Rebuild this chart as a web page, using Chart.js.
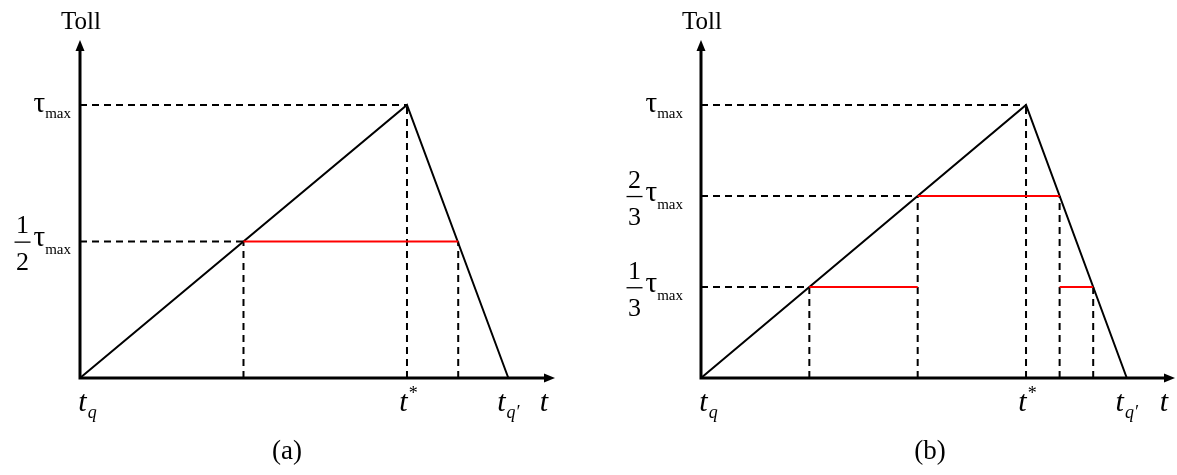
<!DOCTYPE html>
<html><head><meta charset="utf-8">
<script src="https://cdn.jsdelivr.net/npm/chart.js@4.4.0/dist/chart.umd.min.js"></script>
<style>
html,body{margin:0;padding:0;background:#fff;overflow:hidden}
#wrap{position:relative;width:1177px;height:475px}
canvas{position:absolute;top:0}
#cA{left:0}
#cB{left:588px}
</style></head><body>
<div id="wrap"><canvas id="cA" width="588" height="475"></canvas><canvas id="cB" width="589" height="475"></canvas></div>
<script>
// ---- shared toll profile: t_q, t*, t_q'
const profileT = [0, 3, 3.93];
const profileToll = [0, 1, 0];
const profileLabels = ['t_q', 't*', "t_q'"];

// ---- panel (a)
const levelsA = [1, 0.5];
const levelNumA = ['', '1'];
const levelDenA = ['', '2'];
const levelGuideEndA = [3, 1.5];
const vGuideTA = [1.5, 3, 3.47];
const vGuideHA = [0.5, 1, 0.5];
const redStartA = [1.5];
const redEndA = [3.47];
const redLevelA = [0.5];

// ---- panel (b)
const levelsB = [1, 0.667, 0.333];
const levelNumB = ['', '2', '1'];
const levelDenB = ['', '3', '3'];
const levelGuideEndB = [3, 2, 1];
const vGuideTB = [1, 2, 3, 3.31, 3.62];
const vGuideHB = [0.333, 0.667, 1, 0.667, 0.333];
const redStartB = [1, 2, 3.31];
const redEndB = [2, 3.31, 3.62];
const redLevelB = [0.333, 0.667, 0.333];

const SERIF = '"Liberation Serif", "Times New Roman", serif';
const DASH = [7, 5];

function seg(data, color, width, dash, order) {
  return { data, showLine: true, borderColor: color, borderWidth: width,
    borderDash: dash, pointRadius: 0, fill: false, order, tension: 0, clip: false };
}

function buildDatasets(levels, guideEnd, vT, vH, rS, rE, rL) {
  const ds = [];
  rS.forEach((s, i) => ds.push(seg([{x: s, y: rL[i]}, {x: rE[i], y: rL[i]}], '#ff0000', 2, [], 0)));
  ds.push(seg(profileT.map((t, i) => ({x: t, y: profileToll[i]})), '#000', 2, [], 1));
  levels.forEach((l, i) => ds.push(seg([{x: 0, y: l}, {x: guideEnd[i], y: l}], '#000', 2, DASH, 2)));
  vT.forEach((t, i) => ds.push(seg([{x: t, y: 0}, {x: t, y: vH[i]}], '#000', 2, DASH, 2)));
  return ds;
}

const overlay = {
  id: 'overlay',
  afterDatasetsDraw(chart, args, o) {
    const ctx = chart.ctx, x = chart.scales.x, y = chart.scales.y;
    const x0 = x.getPixelForValue(0), y0 = y.getPixelForValue(0);
    const xEnd = x.getPixelForValue(x.max), yTop = y.getPixelForValue(y.max);
    ctx.save();
    ctx.setLineDash([]);
    ctx.strokeStyle = '#000'; ctx.fillStyle = '#000'; ctx.lineWidth = 3;
    ctx.beginPath();
    ctx.moveTo(x0, y0 + 1.5); ctx.lineTo(x0, yTop + 8);
    ctx.moveTo(x0 - 1.5, y0); ctx.lineTo(xEnd - 8, y0);
    ctx.stroke();
    ctx.beginPath(); ctx.moveTo(x0, yTop); ctx.lineTo(x0 - 4.5, yTop + 11); ctx.lineTo(x0 + 4.5, yTop + 11); ctx.closePath(); ctx.fill();
    ctx.beginPath(); ctx.moveTo(xEnd, y0); ctx.lineTo(xEnd - 11, y0 - 4.5); ctx.lineTo(xEnd - 11, y0 + 4.5); ctx.closePath(); ctx.fill();

    // axis title
    ctx.textBaseline = 'alphabetic';
    ctx.font = '25px ' + SERIF; ctx.textAlign = 'center';
    ctx.fillText('Toll', x0 + 1, 29);

    // y level labels
    o.levels.forEach((lv, i) => {
      const yy = y.getPixelForValue(lv);
      const frac = o.num[i] !== '';
      ctx.font = '15px ' + SERIF; ctx.textAlign = 'right';
      const wMax = ctx.measureText('max').width;
      ctx.fillText('max', o.labelRight, yy + 13);
      ctx.font = '29px ' + SERIF;
      const wTau = ctx.measureText('τ').width;
      ctx.fillText('τ', o.labelRight - wMax, yy + (frac ? 5 : 7));
      if (frac) {
        const cx = o.labelRight - wMax - wTau - 11;
        ctx.font = '26px ' + SERIF; ctx.textAlign = 'center';
        ctx.fillText(o.num[i], cx, yy - 8);
        ctx.fillText(o.den[i], cx, yy + 29);
        ctx.fillRect(cx - 8, yy, 16, 1.3);
      }
    });

    // x labels
    const base = 411;
    function tLabel(cx, sub, sup) {
      ctx.font = 'italic 30px ' + SERIF; ctx.textAlign = 'center';
      const w = ctx.measureText('t').width;
      ctx.fillText('t', cx, base);
      ctx.textAlign = 'left';
      if (sub) { ctx.font = 'italic 18px ' + SERIF; ctx.fillText(sub, cx + w / 2 + 1, base + 7); }
      if (sup) { ctx.font = '18px ' + SERIF; ctx.fillText(sup, cx + w / 2 + 1, base - 12); }
    }
    const offs = [2.5, -3.5, -7];
    profileLabels.forEach((lab, i) => {
      const px = x.getPixelForValue(profileT[i]) + offs[i];
      if (lab === 't_q') tLabel(px, 'q');
      else if (lab === 't*') tLabel(px, null, '*');
      else tLabel(px, 'q′');
    });
    tLabel(xEnd - 11);

    // caption
    ctx.font = '27px ' + SERIF; ctx.textAlign = 'center';
    ctx.fillText(o.caption, o.captionX, 459);
    ctx.restore();
  }
};

function makeChart(id, datasets, pad, xMax, ov) {
  return new Chart(document.getElementById(id), {
    type: 'scatter',
    data: { datasets },
    options: {
      responsive: false, animation: false, devicePixelRatio: 1,
      layout: { padding: pad },
      plugins: { legend: { display: false }, tooltip: { enabled: false }, overlay: ov },
      scales: {
        x: { type: 'linear', min: 0, max: xMax, display: false },
        y: { type: 'linear', min: 0, max: 1.238, display: false }
      }
    },
    plugins: [overlay]
  });
}

makeChart('cA', buildDatasets(levelsA, levelGuideEndA, vGuideTA, vGuideHA, redStartA, redEndA, redLevelA),
  { left: 80, right: 33, top: 40, bottom: 97 }, 4.358,
  { levels: levelsA, num: levelNumA, den: levelDenA, labelRight: 71, caption: '(a)', captionX: 287 });
makeChart('cB', buildDatasets(levelsB, levelGuideEndB, vGuideTB, vGuideHB, redStartB, redEndB, redLevelB),
  { left: 113, right: 2, top: 40, bottom: 97 }, 4.375,
  { levels: levelsB, num: levelNumB, den: levelDenB, labelRight: 95, caption: '(b)', captionX: 342 });
</script>
</body></html>
